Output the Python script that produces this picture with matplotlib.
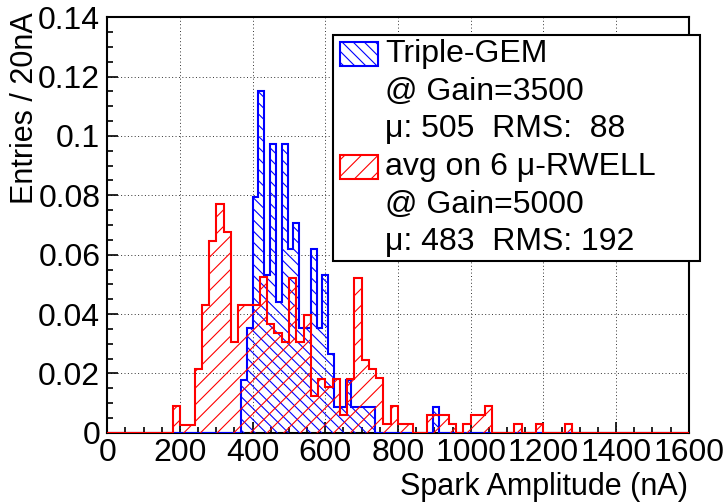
import numpy as np
import matplotlib
matplotlib.use("Agg")
import matplotlib.pyplot as plt
from matplotlib.patches import Rectangle
from matplotlib.ticker import MultipleLocator

plt.rcParams['font.family'] = ['Liberation Sans', 'DejaVu Sans']
plt.rcParams['hatch.linewidth'] = 0.8

# Triple-GEM: 16 nA bins, first bin starts at 368 nA
gem_start = 368
gem_width = 16
gem_vals = [0.0177, 0.0354, 0.0796, 0.115, 0.0531, 0.0973, 0.0442, 0.0973,
            0.0619, 0.0708, 0.0354, 0.0354, 0.0619, 0.0354, 0.0531, 0.0265,
            0.0088, 0.0088, 0.0177, 0.0088, 0.0088, 0.0088, 0.0088,
            0, 0, 0, 0, 0, 0, 0, 0, 0, 0,
            0.0088]

# avg on 6 u-RWELL: 20 nA bins, first bin starts at 180 nA
rwell_start = 180
rwell_width = 20
rwell_vals = [0.009, 0.0026, 0.0026, 0.0215, 0.0431, 0.0646, 0.0771, 0.0678,
              0.0305, 0.0431, 0.0431, 0.0431, 0.0524, 0.0367, 0.0336, 0.0307,
              0.0522, 0.0307, 0.0398, 0.0123, 0.0182, 0.0154, 0.0182, 0.006,
              0.0182, 0.0522, 0.0245, 0.0215, 0.0183, 0.0029, 0.009, 0.0029,
              0.0029, 0, 0, 0.006, 0.006, 0.006, 0.003, 0,
              0.003, 0.006, 0.006, 0.009, 0, 0, 0, 0.003,
              0, 0, 0.003, 0, 0, 0, 0.003]

x_ticks = [0, 200, 400, 600, 800, 1000, 1200, 1400, 1600]
y_ticks = [0, 0.02, 0.04, 0.06, 0.08, 0.1, 0.12, 0.14]
y_labels = ["0", "0.02", "0.04", "0.06", "0.08", "0.1", "0.12", "0.14"]

legend_lines = ["Triple-GEM", "@ Gain=3500", "\u03bc: 505  RMS:  88",
                "avg on 6 \u03bc-RWELL", "@ Gain=5000", "\u03bc: 483  RMS: 192"]

W, H = 726, 503


def fx(px):
    return px / W


def fy(py):
    return 1 - py / H


def full_hist(start, width, vals):
    # put the values in a histogram spanning 0..1600
    nbins = 1600 // width
    h = np.zeros(nbins)
    i0 = start // width
    h[i0:i0 + len(vals)] = vals
    return np.arange(0, 1600 + width, width), h


fig = plt.figure(figsize=(7.26, 5.03), dpi=100)
ax = fig.add_axes([fx(107.3), fy(432.7), fx(688.7 - 107.3), (432.7 - 17.3) / H])

gem_edges, gem_h = full_hist(gem_start, gem_width, gem_vals)
rw_edges, rw_h = full_hist(rwell_start, rwell_width, rwell_vals)

ax.stairs(gem_h, gem_edges, fill=True, facecolor='none', edgecolor='blue',
          hatch='\\\\\\', linewidth=1.5, zorder=3)
ax.stairs(rw_h, rw_edges, fill=True, facecolor='none', edgecolor='red',
          hatch='//', linewidth=1.5, zorder=4)

ax.set_xlim(0, 1600)
ax.set_ylim(0, 0.14)
ax.set_xticks(x_ticks)
ax.set_yticks(y_ticks)
ax.set_yticklabels(y_labels)
ax.xaxis.set_minor_locator(MultipleLocator(50))
ax.yaxis.set_minor_locator(MultipleLocator(0.005))
ax.tick_params(which='both', direction='in', top=False, right=False,
               labelsize=23, width=1.2)
ax.tick_params(which='major', length=8)
ax.tick_params(which='minor', length=4)
ax.tick_params(axis='y', pad=5)
ax.tick_params(axis='x', pad=4)
ax.grid(True, which='major', color='#333333', linestyle=(0, (1, 2.5)), linewidth=0.7)
ax.set_axisbelow(True)
for s in ax.spines.values():
    s.set_linewidth(1.5)

fig.text(fx(688), fy(495), "Spark Amplitude (nA)", ha='right', va='baseline', fontsize=22)
fig.text(fx(25), fy(12), "Entries / 20nA", rotation=90, ha='center', va='top', fontsize=22)

# legend box
box = Rectangle((fx(333), fy(261)), fx(700 - 333), (261 - 35) / H,
                transform=fig.transFigure, facecolor='white', edgecolor='black',
                linewidth=1.5, zorder=10)
fig.add_artist(box)
row_h = (261 - 35) / 6.0
for i, line in enumerate(legend_lines):
    yc = 35 + row_h * (i + 0.5)
    fig.text(fx(385), fy(yc), line, ha='left', va='center', fontsize=23, zorder=11)
for i, col, hat in [(0, 'blue', '\\\\\\'), (3, 'red', '//')]:
    yc = 35 + row_h * (i + 0.5)
    sw = Rectangle((fx(340), fy(yc + 12)), fx(38), 24 / H, transform=fig.transFigure,
                   facecolor='white', edgecolor=col, hatch=hat, linewidth=1.5, zorder=11)
    fig.add_artist(sw)

fig.savefig("out.png", dpi=100)
